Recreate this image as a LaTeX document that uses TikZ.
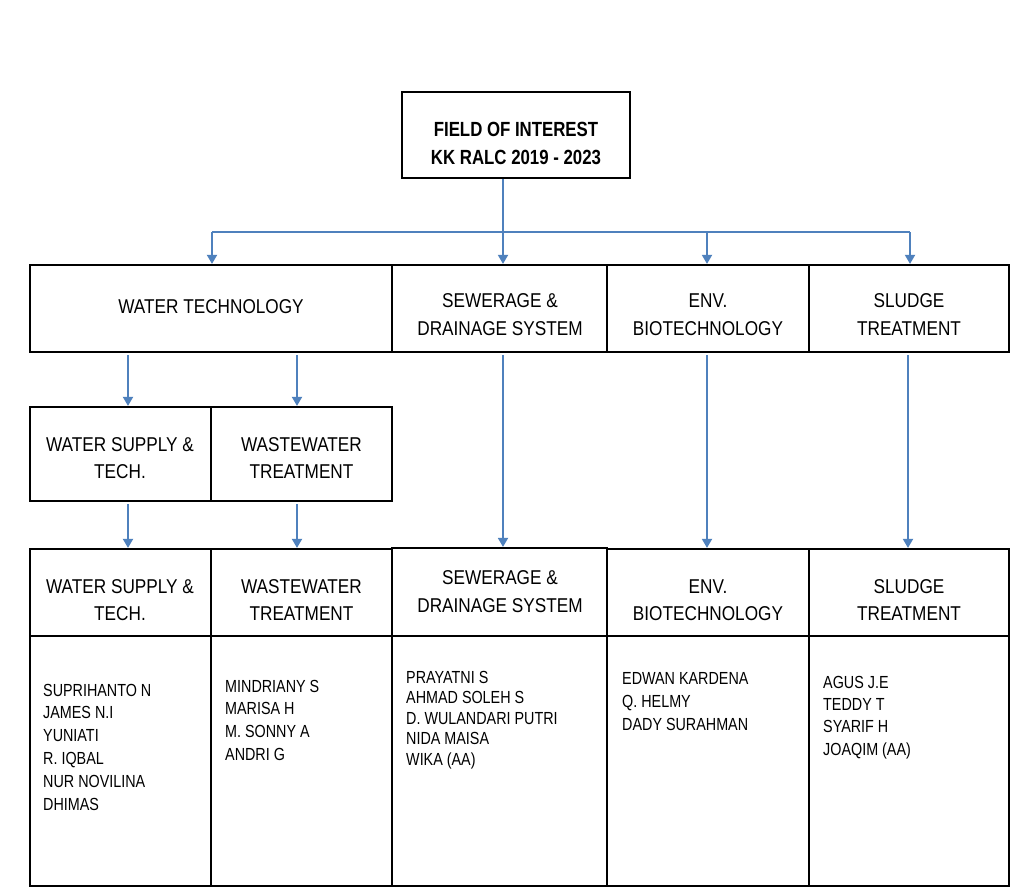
\documentclass[tikz,border=0pt]{standalone}
\usepackage{fontspec}
\setmainfont{Liberation Sans}[FakeStretch=0.82]
\newfontfamily\hdrfont{Liberation Sans}[FakeStretch=0.86]
\usetikzlibrary{arrows.meta}
\definecolor{arrblue}{HTML}{4F81BD}
\begin{document}
\begin{tikzpicture}[x=1pt,y=-1pt,
  box/.style={draw=black,line width=2.2pt,inner sep=0pt,minimum width=#1},
  lbl/.style={align=center,inner sep=0pt,font=\hdrfont\fontsize{20}{27.5}\selectfont},
  ttl/.style={align=center,inner sep=0pt,font=\fontsize{20.5}{28}\selectfont\bfseries},
  names/.style={align=left,inner sep=0pt,anchor=north west,font=\fontsize{17.5}{#1}\selectfont},
  arr/.style={draw=arrblue,line width=1.8pt,-{Triangle[width=10pt,length=9pt]}},
  bus/.style={draw=arrblue,line width=1.8pt}]
\useasboundingbox (0,0) rectangle (1024,891);
\fill[white] (0,0) rectangle (1024,891);
% top box
\node[box=228pt,minimum height=86pt] (top) at (516,135) {};
\node[ttl] (topt) at (516,143) {FIELD OF INTEREST\\KK RALC 2019 - 2023};
% row 1
\node[box=362pt,minimum height=87pt] (wt) at (211,308.5) {};
\node[box=215pt,minimum height=87pt] (sew1) at (499.5,308.5) {};
\node[box=202pt,minimum height=87pt] (env1) at (708,308.5) {};
\node[box=200pt,minimum height=87pt] (sl1) at (909,308.5) {};
\node[lbl] (wtt) at (211,307) {WATER TECHNOLOGY};
\node[lbl] (sew1t) at (500,314.5) {SEWERAGE \&\\DRAINAGE SYSTEM};
\node[lbl] (env1t) at (708,314.5) {ENV.\\BIOTECHNOLOGY};
\node[lbl] (sl1t) at (909,314.5) {SLUDGE\\TREATMENT};
% row 2
\node[box=181pt,minimum height=94pt] (ws2) at (120.5,454) {};
\node[box=181pt,minimum height=94pt] (ww2) at (301.5,454) {};
\node[lbl] (ws2t) at (120,458) {WATER SUPPLY \&\\TECH.};
\node[lbl] (ww2t) at (301.5,458) {WASTEWATER\\TREATMENT};
% row 3 headers
\node[box=181pt,minimum height=87pt] (ws3) at (120.5,592.5) {};
\node[box=181pt,minimum height=87pt] (ww3) at (301.5,592.5) {};
\node[box=215pt,minimum height=88pt] (sew3) at (499.5,592) {};
\node[box=202pt,minimum height=87pt] (env3) at (708,592.5) {};
\node[box=200pt,minimum height=87pt] (sl3) at (909,592.5) {};
\node[lbl] (ws3t) at (120,600) {WATER SUPPLY \&\\TECH.};
\node[lbl] (ww3t) at (301.5,600) {WASTEWATER\\TREATMENT};
\node[lbl] (sew3t) at (500,591.5) {SEWERAGE \&\\DRAINAGE SYSTEM};
\node[lbl] (env3t) at (708,600) {ENV.\\BIOTECHNOLOGY};
\node[lbl] (sl3t) at (909,600) {SLUDGE\\TREATMENT};
% row 3 bodies
\node[box=181pt,minimum height=250pt] (ws4) at (120.5,761) {};
\node[box=181pt,minimum height=250pt] (ww4) at (301.5,761) {};
\node[box=215pt,minimum height=250pt] (sew4) at (499.5,761) {};
\node[box=202pt,minimum height=250pt] (env4) at (708,761) {};
\node[box=200pt,minimum height=250pt] (sl4) at (909,761) {};
\node[names=22.8] (ws4t) at (43,683.7) {SUPRIHANTO N\\JAMES N.I\\YUNIATI\\R. IQBAL\\NUR NOVILINA\\DHIMAS};
\node[names=22.7] (ww4t) at (225,679.7) {MINDRIANY S\\MARISA H\\M. SONNY A\\ANDRI G};
\node[names=20.5] (sew4t) at (406,670.7) {PRAYATNI S\\AHMAD SOLEH S\\D. WULANDARI PUTRI\\NIDA MAISA\\WIKA (AA)};
\node[names=22.8] (env4t) at (622,672.7) {EDWAN KARDENA\\Q. HELMY\\DADY SURAHMAN};
\node[names=22.4] (sl4t) at (823,675.7) {AGUS J.E\\TEDDY T\\SYARIF H\\JOAQIM (AA)};
% connector x positions
\coordinate (xa) at (212,232);
\coordinate (xb) at (503,232);
\coordinate (xc) at (707,232);
\coordinate (xd) at (910,232);
\coordinate (xe) at (128,0);
\coordinate (xf) at (297,0);
\coordinate (xg) at (908,0);
% connectors
\draw[arr] (top.south -| xb) -- (sew1.north -| xb);
\draw[bus] (xa) -- (xd);
\draw[arr] (xa) -- (wt.north -| xa);
\draw[arr] (xc) -- (env1.north -| xc);
\draw[arr] (xd) -- (sl1.north -| xd);
\draw[arr,shorten <=2pt] (wt.south -| xe) -- (ws2.north -| xe);
\draw[arr,shorten <=2pt] (wt.south -| xf) -- (ww2.north -| xf);
\draw[arr,shorten <=2pt] (ws2.south -| xe) -- (ws3.north -| xe);
\draw[arr,shorten <=2pt] (ww2.south -| xf) -- (ww3.north -| xf);
\draw[arr,shorten <=2pt] (sew1.south -| xb) -- (sew3.north -| xb);
\draw[arr,shorten <=2pt] (env1.south -| xc) -- (env3.north -| xc);
\draw[arr,shorten <=2pt] (sl1.south -| xg) -- (sl3.north -| xg);
\end{tikzpicture}
\end{document}
